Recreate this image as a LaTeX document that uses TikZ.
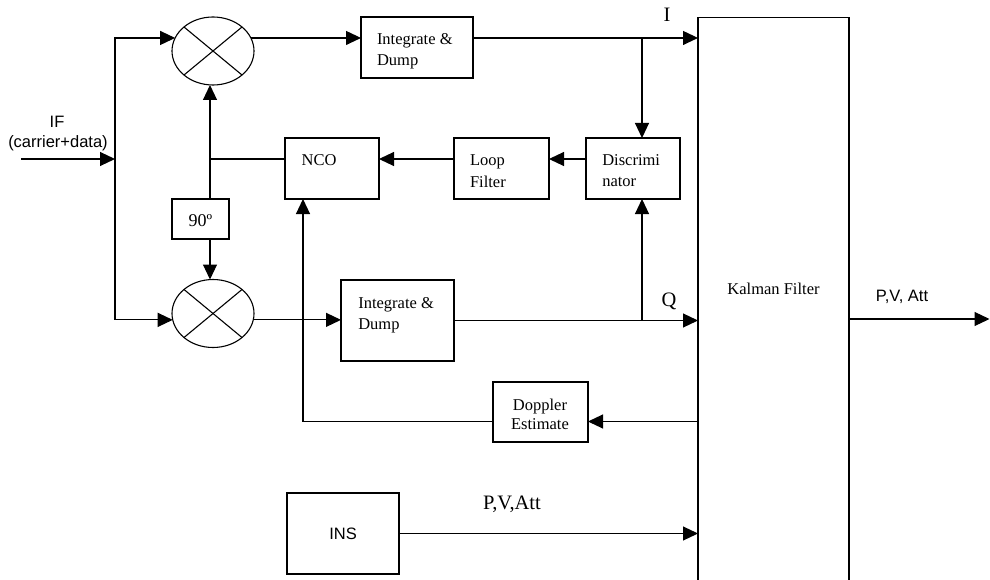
\documentclass[tikz,border=0pt]{standalone}
\usepackage{fontspec}
\setmainfont{Liberation Serif}
\newfontfamily\arialf{Liberation Sans}
\usetikzlibrary{arrows.meta,shapes.geometric}
\begin{document}
\begin{tikzpicture}[x=1pt,y=-1pt,
  every node/.style={inner sep=0pt, outer sep=0pt},
  blk/.style={draw, line width=1.1pt, rectangle, inner sep=0pt},
  mix/.style={draw, line width=1.1pt, ellipse, minimum width=82pt, minimum height=68pt, inner sep=0pt},
  ln/.style={line width=1.1pt},
  arr/.style={line width=1.1pt, -{Triangle[length=15pt,width=14pt]}},
  txt/.style={font=\fontsize{16.5pt}{21.5pt}\selectfont, align=left},
  dtxt/.style={font=\fontsize{16.5pt}{19.5pt}\selectfont, align=center},
  big/.style={font=\fontsize{20.5pt}{24pt}\selectfont},
  sf/.style={font=\arialf\fontsize{16.5pt}{20pt}\selectfont, align=center}]
\useasboundingbox (0,0) rectangle (990,580);
\clip (0,0) rectangle (990,580);

% mixers
\node[mix] (mixT) at (213,51) {};
\node[mix] (mixB) at (213,313.5) {};
\draw[ln] ([shift={(-29,-24)}]mixT.center) -- ([shift={(29,24)}]mixT.center);
\draw[ln] ([shift={(29,-24)}]mixT.center) -- ([shift={(-29,24)}]mixT.center);
\draw[ln] ([shift={(-29,-24)}]mixB.center) -- ([shift={(29,24)}]mixB.center);
\draw[ln] ([shift={(29,-24)}]mixB.center) -- ([shift={(-29,24)}]mixB.center);

% blocks
\node[blk, minimum width=112pt, minimum height=61pt] (intT) at (417,47.5) {};
\node[txt, anchor=north west] (intTt) at (377,33.2) {Integrate \&\\Dump};
\node[blk, minimum width=113pt, minimum height=81pt] (intB) at (397.5,320.5) {};
\node[txt, anchor=north west] (intBt) at (358.3,297.1) {Integrate \&\\Dump};
\node[blk, minimum width=94pt, minimum height=61pt] (nco) at (332,168.5) {};
\node[txt, anchor=base west] (ncot) at (301.7,165.7) {NCO};
\node[blk, minimum width=95pt, minimum height=61pt] (loop) at (501.5,168.5) {};
\node[txt, anchor=north west] (loopt) at (470,154.8) {Loop\\Filter};
\node[blk, minimum width=94pt, minimum height=61pt] (disc) at (633,168.5) {};
\node[txt, anchor=north west] (disct) at (602.3,154.4) {Discrimi\\nator};
\node[blk, minimum width=57pt, minimum height=40pt] (n90) at (200.5,219) {};
\node[font=\fontsize{18pt}{20pt}\selectfont, anchor=base] (n90t) at (200.5,226.7) {90º};
\node[blk, minimum width=95pt, minimum height=60pt] (dop) at (540.5,412) {};
\node[dtxt, anchor=north] (dopt) at (540,398.7) {Doppler\\Estimate};
\node[blk, sf, minimum width=112pt, minimum height=81pt] (ins) at (343,533.5) {INS};
\node[draw, line width=1.5pt, minimum width=151pt, minimum height=600pt] (kal) at (773.5,317.3) {};
\node[txt, anchor=base] (kalt) at (773.5,294) {Kalman Filter};

% labels
\node[big, anchor=base] (lI) at (667,21.7) {I};
\node[big, anchor=base] (lQ) at (669,306) {Q};
\node[big, anchor=base] (lP) at (512,509.3) {P,V,Att};
\node[sf, anchor=base] (lP2) at (902,301.7) {P,V, Att};
\node[sf, anchor=base] (lIF) at (57,127.3) {IF};
\node[sf, anchor=base] (lIF2) at (58,148) {(carrier+data)};

% junctions
\coordinate (inp) at (21,159);
\coordinate (jIF) at (115,159);
\coordinate (jN) at (210,159);
\coordinate (jI) at (642,37.96);
\coordinate (jQ) at (642,320.5);
\coordinate (jD) at (303,421.5);
\coordinate (outp) at (989.5,319);

% connectors
\draw[arr] (inp) -- (jIF);
\draw[arr] (jIF) |- (mixT.161);
\draw[arr] (jIF) |- (mixB.189);
\draw[arr] (mixT.19) -- (intT.west |- mixT.19);
\draw[arr] (intT.east |- mixT.19) -- (kal.west |- mixT.19);
\draw[arr] (jI) -- (jI |- disc.north);
\draw[arr] (disc.west |- jN) -- (loop.east |- jN);
\draw[arr] (loop.west |- jN) -- (nco.east |- jN);
\draw[ln] (nco.west |- jN) -- (jN);
\draw[arr] (n90.north -| jN) -- (jN |- mixT.south);
\draw[arr] (n90.south -| jN) -- (jN |- mixB.north);
\draw[arr] (mixB.351) -- (intB.west |- mixB.351);
\draw[arr] (intB.east) -- (kal.west |- intB.east);
\draw[arr] (jQ) -- (jQ |- disc.south);
\draw[arr] (kal.west |- jD) -- (dop.east |- jD);
\draw[ln] (dop.west |- jD) -- (jD);
\draw[arr] (jD) -- (jD |- nco.south);
\draw[arr] (ins.east) -- (kal.west |- ins.east);
\draw[arr] (kal.east |- outp) -- (outp);
\end{tikzpicture}
\end{document}
